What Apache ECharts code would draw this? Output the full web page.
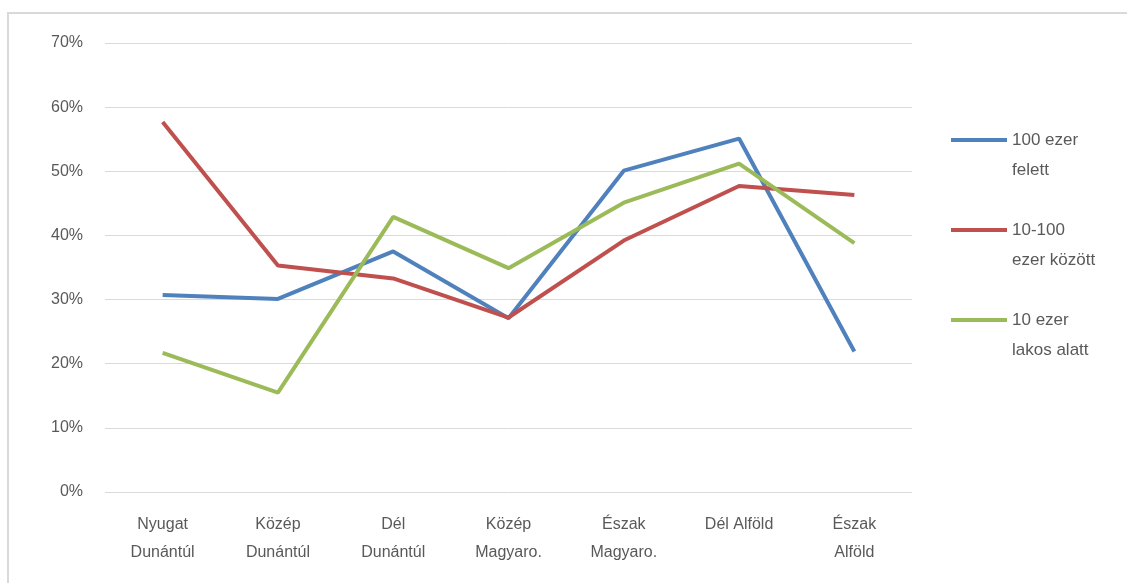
<!DOCTYPE html>
<html>
<head>
<meta charset="utf-8">
<script src="https://cdn.jsdelivr.net/npm/echarts@6/dist/echarts.min.js"></script>
<style>
  html, body { margin: 0; padding: 0; background: #fff; }
  #chart { width: 1127px; height: 583px; }
</style>
</head>
<body>
<div id="chart"></div>
<script>
// regions
const categories = ['Nyugat\nDunántúl', 'Közép\nDunántúl', 'Dél\nDunántúl', 'Közép\nMagyaro.', 'Észak\nMagyaro.', 'Dél Alföld', 'Észak\nAlföld'];
// values in %
const over100k = [30.7, 30.1, 37.5, 27.1, 50.1, 55.1, 21.9];
const between10and100k = [57.7, 35.3, 33.3, 27.2, 39.2, 47.7, 46.3];
const under10k = [21.7, 15.5, 42.9, 34.9, 45.1, 51.2, 38.8];
const seriesNames = ['100 ezer\nfelett', '10-100\nezer között', '10 ezer\nlakos alatt'];
const colors = ['#4F81BD', '#C0504D', '#9BBB59'];

const font = 'Liberation Sans';
// legend line sits next to the first text line: bar on top, tiny dot at the bottom keeps the box tall
const legendIcon = 'path://M0,0L56,0L56,4L0,4Z M0,33.9L0.1,33.9L0.1,34L0,34Z';

function lineSeries(name, data, color) {
  return {
    name: name,
    type: 'line',
    data: data,
    symbol: 'none',
    itemStyle: { color: color },
    lineStyle: { color: color, width: 4 }
  };
}

let myChart = echarts.init(document.getElementById('chart'));
let option = {
  animation: false,
  textStyle: { fontFamily: font },
  graphic: [{
    type: 'rect',
    shape: { x: 8, y: 13, width: 1140, height: 600 },
    style: { fill: 'none', stroke: '#d9d9d9', lineWidth: 2 }
  }],
  grid: { left: 105, right: 215, top: 43, bottom: 91 },
  legend: {
    orient: 'vertical',
    left: 946,
    top: 120,
    itemWidth: 56,
    itemHeight: 34,
    itemGap: 30,
    icon: legendIcon,
    textStyle: { fontFamily: font, fontSize: 17, color: '#595959', lineHeight: 30 },
    data: seriesNames
  },
  xAxis: {
    type: 'category',
    data: categories,
    boundaryGap: true,
    axisLine: { show: false },
    axisTick: { show: false },
    axisLabel: { fontFamily: font, fontSize: 16, color: '#595959', lineHeight: 28, margin: 19, interval: 0 }
  },
  yAxis: {
    type: 'value',
    min: 0,
    max: 70,
    interval: 10,
    axisLine: { show: false },
    axisTick: { show: false },
    axisLabel: { fontFamily: font, fontSize: 16, color: '#595959', margin: 22, formatter: '{value}%' },
    splitLine: { lineStyle: { color: '#d9d9d9', width: 1 } }
  },
  series: [
    lineSeries(seriesNames[0], over100k, colors[0]),
    lineSeries(seriesNames[1], between10and100k, colors[1]),
    lineSeries(seriesNames[2], under10k, colors[2])
  ]
};
myChart.setOption(option);
</script>
</body>
</html>
